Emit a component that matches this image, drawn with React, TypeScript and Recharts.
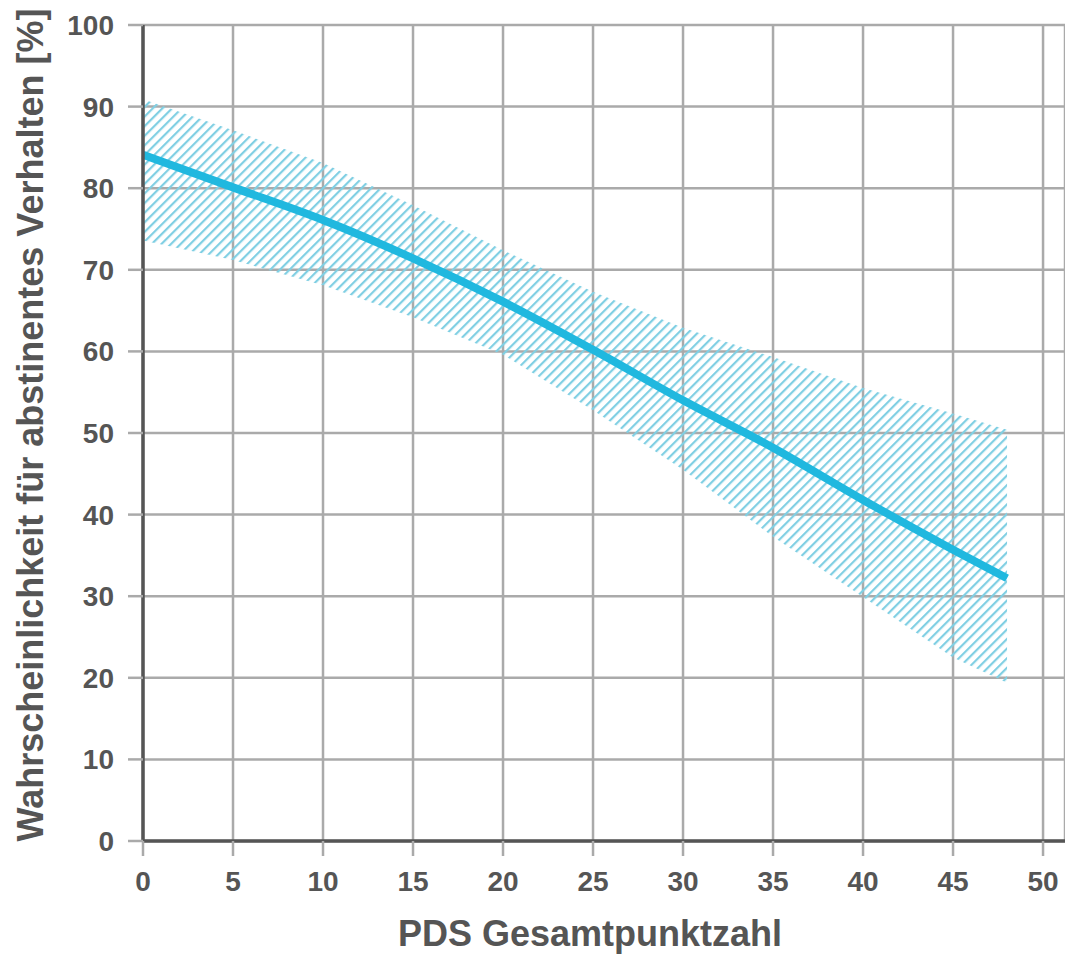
import React from 'react';
import {
  ComposedChart,
  Area,
  Line,
  XAxis,
  YAxis,
  CartesianGrid,
} from 'recharts';

// PDS-Gesamtpunktzahl and estimated probability of abstinence (%)
const pdsScores = [0, 5, 10, 15, 20, 25, 30, 35, 40, 45, 48];
const meanValues = [84.1, 80.1, 76.1, 71.4, 66.1, 60.2, 54.0, 48.2, 41.8, 35.7, 32.2];
const upperValues = [90.9, 87.1, 83.1, 77.9, 72.4, 67.3, 62.9, 59.3, 55.5, 52.4, 50.4];
const lowerValues = [73.6, 71.2, 68.1, 64.2, 59.6, 52.8, 45.5, 37.3, 29.9, 22.5, 19.4];

const xTicks = [0, 5, 10, 15, 20, 25, 30, 35, 40, 45, 50];
const yTicks = [0, 10, 20, 30, 40, 50, 60, 70, 80, 90, 100];

const FONT = '"Liberation Sans", Arial, sans-serif';
const TEXT = '#555555';
const GRID = '#aaaaaa';
const AXIS = '#555555';
const LINE = '#20b8df';
const HATCH = '#80cfe3';

const data = pdsScores.map((x, i) => ({
  x,
  mean: meanValues[i],
  band: [lowerValues[i], upperValues[i]],
}));

const tickStyle = { fill: TEXT, fontSize: 28, fontWeight: 700, fontFamily: FONT };

const YTitle = (props: any) => {
  const { viewBox } = props;
  const cx = 30;
  const cy = viewBox.y + viewBox.height / 2 - 8;
  return (
    <text
      x={cx}
      y={cy}
      transform={`rotate(-90 ${cx} ${cy})`}
      textAnchor="middle"
      dominantBaseline="central"
      fill={TEXT}
      fontSize={36}
      fontWeight={700}
      fontFamily={FONT}
    >
      Wahrscheinlichkeit für abstinentes Verhalten [%]
    </text>
  );
};

const XTitle = () => (
  <text
    x={590}
    y={946}
    textAnchor="middle"
    fill={TEXT}
    fontSize={36}
    fontWeight={700}
    fontFamily={FONT}
  >
    PDS Gesamtpunktzahl
  </text>
);

export default function App() {
  return (
    <div style={{ position: 'absolute', left: 0, top: 0, background: '#fff' }}>
      <ComposedChart
        width={1065}
        height={960}
        data={data}
        margin={{ top: 25, right: 0, bottom: 0, left: 0 }}
      >
        <defs>
          <pattern
            id="hatch"
            width="6.8"
            height="6.8"
            patternUnits="userSpaceOnUse"
            patternTransform="rotate(45)"
          >
            <line x1="1" y1="0" x2="1" y2="6.8" stroke={HATCH} strokeWidth={2.4} />
          </pattern>
        </defs>
        <CartesianGrid stroke={GRID} strokeWidth={2.5} />
        <XAxis
          dataKey="x"
          type="number"
          domain={[0, 51.22]}
          ticks={xTicks}
          interval={0}
          height={119}
          tickSize={15}
          tickMargin={15}
          tickLine={{ stroke: GRID, strokeWidth: 2.5 }}
          axisLine={{ stroke: AXIS, strokeWidth: 3.5 }}
          tick={tickStyle}
          label={<XTitle />}
        />
        <YAxis
          type="number"
          domain={[0, 100]}
          ticks={yTicks}
          interval={0}
          width={143}
          tickSize={15}
          tickMargin={14}
          tickLine={{ stroke: GRID, strokeWidth: 2.5 }}
          axisLine={{ stroke: AXIS, strokeWidth: 3.5 }}
          tick={tickStyle}
          label={<YTitle />}
        />
        <Area
          dataKey="band"
          type="linear"
          stroke="none"
          fill="url(#hatch)"
          fillOpacity={1}
          isAnimationActive={false}
          activeDot={false}
        />
        <Line
          dataKey="mean"
          type="monotone"
          stroke={LINE}
          strokeWidth={8}
          dot={false}
          activeDot={false}
          isAnimationActive={false}
        />
      </ComposedChart>
    </div>
  );
}
